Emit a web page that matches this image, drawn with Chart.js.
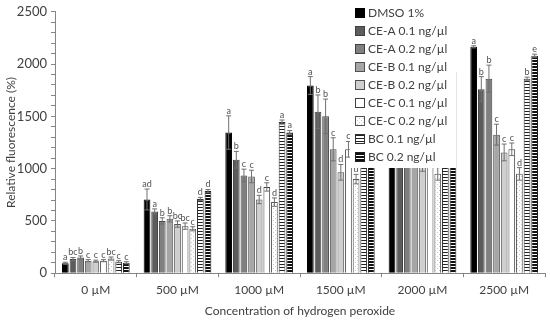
<!DOCTYPE html>
<html>
<head>
<meta charset="utf-8">
<script src="https://cdn.jsdelivr.net/npm/chart.js@4"></script>
<style>
  html, body { margin: 0; padding: 0; background: #fff; }
  #wrap { width: 550px; height: 320px; }
</style>
</head>
<body>
<div id="wrap"><canvas id="chart"></canvas></div>
<script>
// categories and series
const groups = ['0 µM', '500 µM', '1000 µM', '1500 µM', '2000 µM', '2500 µM'];
const seriesNames = ['DMSO 1%', 'CE-A 0.1 ng/µl', 'CE-A 0.2 ng/µl', 'CE-B 0.1 ng/µl', 'CE-B 0.2 ng/µl',
  'CE-C 0.1 ng/µl', 'CE-C 0.2 ng/µl', 'BC 0.1 ng/µl', 'BC 0.2 ng/µl'];

const dmso = [95, 705, 1345, 1795, 1970, 2165];
const ceA01 = [135, 590, 1085, 1545, 1695, 1760];
const ceA02 = [150, 500, 935, 1500, 1630, 1860];
const ceB01 = [120, 520, 925, 1185, 1210, 1325];
const ceB02 = [115, 470, 705, 965, 1045, 1155];
const ceC01 = [120, 450, 825, 1185, 1195, 1185];
const ceC02 = [140, 425, 680, 900, 950, 950];
const bc01 = [110, 710, 1445, 1695, 1815, 1860];
const bc02 = [100, 785, 1345, 1825, 1925, 2080];

// error bar half-heights
const errDmso = [10, 100, 160, 85, 55, 10];
const errCeA01 = [15, 25, 80, 160, 170, 120];
const errCeA02 = [15, 30, 60, 165, 185, 130];
const errCeB01 = [10, 30, 60, 110, 90, 100];
const errCeB02 = [10, 30, 40, 75, 70, 80];
const errCeC01 = [10, 30, 40, 75, 70, 60];
const errCeC02 = [15, 20, 40, 45, 60, 60];
const errBc01 = [10, 15, 20, 15, 15, 15];
const errBc02 = [10, 15, 20, 15, 15, 15];

// significance letters
const letDmso = ['a', 'ad', 'a', 'a', 'a', 'a'];
const letCeA01 = ['bc', 'a', 'b', 'b', 'b', 'b'];
const letCeA02 = ['b', 'b', 'c', 'b', 'b', 'b'];
const letCeB01 = ['c', 'b', 'c', 'c', 'c', 'c'];
const letCeB02 = ['c', 'bc', 'd', 'd', 'de', 'c'];
const letCeC01 = ['c', 'bc', 'c', 'c', 'cd', 'c'];
const letCeC02 = ['bc', 'c', 'd', 'd', 'de', 'd'];
const letBc01 = ['c', 'd', 'a', 'e', 'f', 'b'];
const letBc02 = ['c', 'd', 'a', 'a', 'a', 'e'];

const yTicks = [0, 500, 1000, 1500, 2000, 2500];

const values = [dmso, ceA01, ceA02, ceB01, ceB02, ceC01, ceC02, bc01, bc02];
const errors = [errDmso, errCeA01, errCeA02, errCeB01, errCeB02, errCeC01, errCeC02, errBc01, errBc02];
const letters = [letDmso, letCeA01, letCeA02, letCeB01, letCeB02, letCeC01, letCeC02, letBc01, letBc02];

function makePattern(w, h, draw) {
  const c = document.createElement('canvas');
  c.width = w; c.height = h;
  const g = c.getContext('2d');
  g.fillStyle = '#fff';
  g.fillRect(0, 0, w, h);
  draw(g);
  return c.getContext('2d').createPattern(c, 'repeat');
}

const dotted = makePattern(4, 4, g => {
  g.fillStyle = '#c8c8c8';
  g.fillRect(1, 0, 1, 1);
  g.fillRect(3, 2, 1, 1);
});
const stripesThin = makePattern(4, 3, g => {
  g.fillStyle = '#222';
  g.fillRect(0, 0, 4, 1);
});
const stripesThick = makePattern(4, 3, g => {
  g.fillStyle = '#111';
  g.fillRect(0, 0, 4, 2);
});

const fills = ['#000000', '#5c5c5c', '#808080', '#a6a6a6', '#cfcfcf', '#ffffff', dotted, stripesThin, stripesThick];
const borders = ['#000000', '#404040', '#404040', '#505050', '#505050', '#404040', '#505050', '#303030', '#202020'];

const datasets = seriesNames.map((name, i) => ({
  label: name,
  data: values[i],
  backgroundColor: fills[i],
  borderColor: borders[i],
  borderWidth: 1,
  categoryPercentage: 0.84,
  barPercentage: 0.88
}));

const textColor = '#404040';
const axisColor = '#868686';

const errorBars = {
  id: 'errorBars',
  afterDatasetsDraw(chart) {
    const ctx = chart.ctx;
    const y = chart.scales.y;
    ctx.save();
    chart.data.datasets.forEach((ds, i) => {
      const meta = chart.getDatasetMeta(i);
      meta.data.forEach((bar, j) => {
        const v = ds.data[j];
        const e = errors[i][j];
        const top = y.getPixelForValue(v + e);
        const bot = y.getPixelForValue(v - e);
        ctx.strokeStyle = '#707070';
        ctx.lineWidth = 1;
        ctx.beginPath();
        ctx.moveTo(bar.x, top); ctx.lineTo(bar.x, bot);
        ctx.moveTo(bar.x - 2.5, top); ctx.lineTo(bar.x + 2.5, top);
        ctx.moveTo(bar.x - 2.5, bot); ctx.lineTo(bar.x + 2.5, bot);
        ctx.stroke();
        ctx.fillStyle = '#505050';
        ctx.font = '9px Lato';
        ctx.textAlign = 'center';
        ctx.textBaseline = 'bottom';
        ctx.fillText(letters[i][j], bar.x, top - 0.5);
      });
    });
    ctx.restore();
  }
};

// legend box with white fill sitting over the plot, top right
const boxLegend = {
  id: 'boxLegend',
  afterDraw(chart) {
    const ctx = chart.ctx;
    const x0 = 350, y0 = 4, rowH = 18;
    ctx.save();
    ctx.fillStyle = '#fff';
    ctx.fillRect(x0, y0, 106, rowH * seriesNames.length + 2);
    ctx.font = '12px Lato';
    ctx.textBaseline = 'middle';
    ctx.textAlign = 'left';
    chart.data.datasets.forEach((ds, i) => {
      const cy = y0 + 9 + i * rowH;
      ctx.fillStyle = ds.backgroundColor;
      ctx.fillRect(x0 + 5.5, cy - 4.5, 9, 9);
      ctx.strokeStyle = ds.borderColor;
      ctx.lineWidth = 1;
      ctx.strokeRect(x0 + 5.5, cy - 4.5, 9, 9);
      ctx.fillStyle = textColor;
      ctx.fillText(ds.label, x0 + 18, cy + 0.5);
    });
    ctx.restore();
  }
};

new Chart(document.getElementById('chart'), {
  type: 'bar',
  data: { labels: groups, datasets },
  plugins: [errorBars, boxLegend],
  options: {
    responsive: true,
    maintainAspectRatio: false,
    animation: false,
    layout: { padding: { top: 8, right: 5, left: 0, bottom: 0 } },
    plugins: {
      legend: { display: false },
      tooltip: { enabled: false }
    },
    scales: {
      x: {
        grid: { display: true, offset: true, drawOnChartArea: false, tickLength: 4, color: axisColor },
        border: { color: axisColor },
        ticks: { color: textColor, font: { family: 'Lato', size: 12 }, padding: 6, maxRotation: 0 },
        title: { display: true, text: 'Concentration of hydrogen peroxide', color: textColor,
          font: { family: 'Lato', size: 12 }, padding: { top: 0, bottom: 2 } }
      },
      y: {
        min: 0,
        max: 2500,
        afterFit(scale) { scale.width = 55; },
        grid: { display: true, drawOnChartArea: false, tickLength: 4, color: axisColor },
        border: { color: axisColor },
        ticks: {
          stepSize: 100,
          autoSkip: false,
          padding: 4,
          color: textColor,
          font: { family: 'Lato', size: 13 },
          callback: v => (yTicks.includes(v) ? String(v) : '')
        },
        title: { display: true, text: 'Relative fluorescence (%)', color: textColor,
          font: { family: 'Lato', size: 12 }, padding: { top: 4, bottom: 0 } }
      }
    }
  }
});
</script>
</body>
</html>
